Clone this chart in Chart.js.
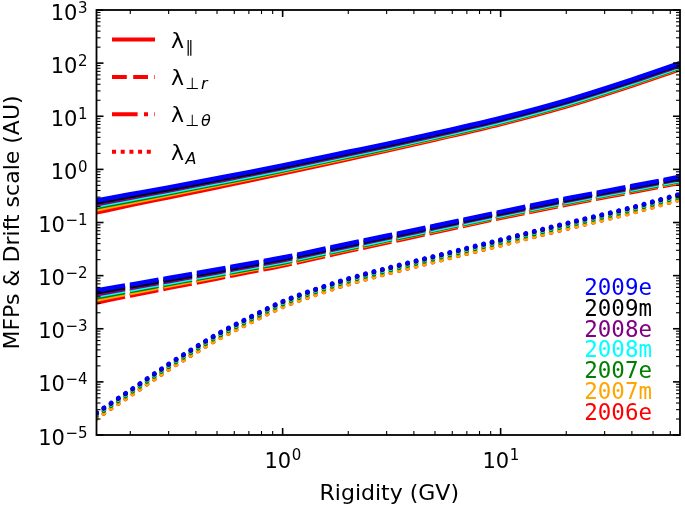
<!DOCTYPE html>
<html><head><meta charset="utf-8">
<script src="https://cdn.jsdelivr.net/npm/chart.js@4.4.1/dist/chart.umd.min.js"></script>
<style>html,body{margin:0;padding:0;background:#fff;overflow:hidden}#wrap{width:685px;height:507px;position:relative}</style>
</head><body><div id="wrap"><canvas id="c" width="685" height="507"></canvas></div>
<script>
// Rigidity grids (GV)
const rigidity = [0.14, 0.2, 0.3, 0.5, 0.7, 1, 2, 3, 5, 10, 20, 40, 66.5];
const rigidityA = [0.14, 0.17, 0.2, 0.25, 0.3, 0.4, 0.5, 0.7, 1, 1.5, 2, 3, 5, 7, 10, 20, 40, 66.5];

const years = ['2009e', '2009m', '2008e', '2008m', '2007e', '2007m', '2006e'];
const yearColors = ['#0000ff', '#000000', '#800080', '#00ffff', '#008000', '#ffa500', '#ff0000'];

// lambda_parallel (solid)
const lamPar2009e = [0.260, 0.339, 0.459, 0.681, 0.887, 1.19, 2.14, 3.02, 4.79, 9.27, 19.95, 49.0, 100];
const lamPar2009m = [0.240, 0.315, 0.428, 0.639, 0.836, 1.123, 2.03, 2.87, 4.56, 8.85, 19.05, 46.8, 95.5];
const lamPar2008e = [0.221, 0.292, 0.400, 0.600, 0.787, 1.060, 1.926, 2.73, 4.35, 8.45, 18.19, 44.7, 91.2];
const lamPar2008m = [0.206, 0.273, 0.375, 0.563, 0.740, 0.997, 1.813, 2.57, 4.10, 7.98, 17.18, 42.2, 86.1];
const lamPar2007e = [0.193, 0.257, 0.354, 0.535, 0.704, 0.952, 1.740, 2.47, 3.96, 7.71, 16.60, 40.8, 83.2];
const lamPar2007m = [0.176, 0.237, 0.331, 0.505, 0.670, 0.912, 1.676, 2.40, 3.85, 7.54, 16.22, 39.8, 81.3];
const lamPar2006e = [0.155, 0.212, 0.299, 0.462, 0.616, 0.843, 1.569, 2.25, 3.64, 7.15, 15.38, 37.8, 77.1];

// lambda_perp_r (dashed)
const lamPerp2009e = [0.00525, 0.00676, 0.00902, 0.01303, 0.01679, 0.0219, 0.0398, 0.0562, 0.0871, 0.1585, 0.282, 0.485, 0.724];
const lamPerp2009m = [0.00485, 0.00628, 0.00842, 0.01222, 0.01582, 0.0207, 0.0377, 0.0534, 0.0830, 0.1514, 0.269, 0.463, 0.691];
const lamPerp2008e = [0.00447, 0.00582, 0.00786, 0.01148, 0.01489, 0.0195, 0.0358, 0.0508, 0.0791, 0.1446, 0.257, 0.442, 0.660];
const lamPerp2008m = [0.00417, 0.00544, 0.00737, 0.01076, 0.01400, 0.01835, 0.0337, 0.0478, 0.0746, 0.1365, 0.243, 0.418, 0.623];
const lamPerp2007e = [0.00389, 0.00512, 0.00695, 0.01023, 0.01333, 0.01752, 0.0324, 0.0460, 0.0719, 0.1319, 0.235, 0.404, 0.602];
const lamPerp2007m = [0.00355, 0.00472, 0.00650, 0.00966, 0.01268, 0.01678, 0.0312, 0.0446, 0.0700, 0.1289, 0.229, 0.394, 0.589];
const lamPerp2006e = [0.00313, 0.00422, 0.00588, 0.00883, 0.01167, 0.01551, 0.0292, 0.0419, 0.0661, 0.1222, 0.217, 0.374, 0.558];

// lambda_A drift scale (dotted), on rigidityA
const lamA2009e = [2.63e-5, 4.52e-5, 7.05e-5, 1.321e-4, 2.19e-4, 4.61e-4, 7.98e-4, 1.629e-3, 3.31e-3, 6.08e-3, 8.87e-3, 0.01393, 0.0236, 0.0333, 0.0479, 0.0977, 0.195, 0.347];
const lamA2009m = [2.57e-5, 4.42e-5, 6.89e-5, 1.291e-4, 2.14e-4, 4.50e-4, 7.80e-4, 1.592e-3, 3.23e-3, 5.94e-3, 8.67e-3, 0.01361, 0.0231, 0.0325, 0.0468, 0.0955, 0.191, 0.339];
const lamA2008e = [2.51e-5, 4.32e-5, 6.73e-5, 1.262e-4, 2.09e-4, 4.40e-4, 7.62e-4, 1.556e-3, 3.16e-3, 5.81e-3, 8.47e-3, 0.01330, 0.0225, 0.0318, 0.0457, 0.0933, 0.186, 0.331];
const lamA2008m = [2.43e-5, 4.17e-5, 6.51e-5, 1.219e-4, 2.02e-4, 4.26e-4, 7.37e-4, 1.504e-3, 3.06e-3, 5.61e-3, 8.19e-3, 0.01286, 0.0218, 0.0307, 0.0442, 0.0902, 0.180, 0.320];
const lamA2007e = [2.29e-5, 3.94e-5, 6.14e-5, 1.151e-4, 1.91e-4, 4.02e-4, 6.95e-4, 1.419e-3, 2.88e-3, 5.30e-3, 7.73e-3, 0.01213, 0.0206, 0.0290, 0.0417, 0.0851, 0.170, 0.302];
const lamA2007m = [2.05e-5, 3.53e-5, 5.50e-5, 1.030e-4, 1.71e-4, 3.60e-4, 6.22e-4, 1.271e-3, 2.58e-3, 4.74e-3, 6.92e-3, 0.01087, 0.0184, 0.0260, 0.0374, 0.0762, 0.152, 0.271];
const lamA2006e = [2.03e-5, 3.49e-5, 5.44e-5, 1.020e-4, 1.69e-4, 3.56e-4, 6.16e-4, 1.258e-3, 2.56e-3, 4.69e-3, 6.85e-3, 0.01075, 0.0182, 0.0257, 0.0370, 0.0754, 0.151, 0.268];

// axis ticks
const xTickValues = [1, 10];
const xTickLabels = [['10', '0'], ['10', '1']];
const yTickValues = [1e-5, 1e-4, 1e-3, 1e-2, 1e-1, 1, 10, 100, 1000];
const yTickLabels = [['10', '−5'], ['10', '−4'], ['10', '−3'], ['10', '−2'], ['10', '−1'], ['10', '0'], ['10', '1'], ['10', '2'], ['10', '3']];
const xTitle = 'Rigidity (GV)';
const yTitle = 'MFPs & Drift scale (AU)';

// legend for line styles
const lambdaLegend = [
  [['∥', false]],
  [['⊥', false], ['r', true]],
  [['⊥', false], ['θ', true]],
  [['A', true]]
];
const lambdaLegendDash = [[], [14.8, 6.4], [25.6, 6.4, 4, 6.4], [4, 4.7]];

const parSeries = [lamPar2009e, lamPar2009m, lamPar2008e, lamPar2008m, lamPar2007e, lamPar2007m, lamPar2006e];
const perpSeries = [lamPerp2009e, lamPerp2009m, lamPerp2008e, lamPerp2008m, lamPerp2007e, lamPerp2007m, lamPerp2006e];
const aSeries = [lamA2009e, lamA2009m, lamA2008e, lamA2008m, lamA2007e, lamA2007m, lamA2006e];

function pts(xs, vals) { return xs.map((x, i) => ({ x: x, y: vals[i] })); }

const datasets = [];
function addGroup(xs, series, dash, cap, width, tag) {
  series.forEach((vals, i) => {
    datasets.push({
      label: tag + ' ' + years[i],
      data: pts(xs, vals),
      borderColor: yearColors[i],
      backgroundColor: yearColors[i],
      borderWidth: width,
      borderDash: dash,
      borderCapStyle: cap,
      pointRadius: 0,
      fill: false,
      cubicInterpolationMode: 'monotone',
      clip: 0
    });
  });
}
addGroup(rigidity, parSeries, [], 'butt', 4.5, 'λ∥');
addGroup(rigidity, perpSeries, [29, 5], 'butt', 4.5, 'λ⊥r');
addGroup(rigidityA, aSeries, [0.5, 8.2], 'round', 4.2, 'λA');

const FONT = '"DejaVu Sans", sans-serif';

const decor = {
  id: 'decor',
  afterDraw(chart) {
    const ctx = chart.ctx;
    const a = chart.chartArea;
    const xs = chart.scales.x, ys = chart.scales.y;
    ctx.save();
    ctx.strokeStyle = '#000';
    ctx.fillStyle = '#000';
    const tick = (x1, y1, x2, y2, w) => { ctx.lineWidth = w; ctx.beginPath(); ctx.moveTo(x1, y1); ctx.lineTo(x2, y2); ctx.stroke(); };
    for (let e = -5; e <= 3; e++) {
      for (let m = 1; m <= 9; m++) {
        const v = m * Math.pow(10, e);
        if (v < 1e-5 * 0.999 || v > 1e3 * 1.001) continue;
        const p = ys.getPixelForValue(v);
        const L = m === 1 ? 7 : 4, w = m === 1 ? 1.6 : 1.1;
        tick(a.left, p, a.left + L, p, w);
        tick(a.right, p, a.right - L, p, w);
      }
    }
    for (let e = -1; e <= 1; e++) {
      for (let m = 1; m <= 9; m++) {
        const v = m * Math.pow(10, e);
        if (v < xs.min || v > xs.max) continue;
        const p = xs.getPixelForValue(v);
        const L = m === 1 ? 7 : 4, w = m === 1 ? 1.6 : 1.1;
        tick(p, a.bottom, p, a.bottom - L, w);
        tick(p, a.top, p, a.top + L, w);
      }
    }
    ctx.lineWidth = 1.8;
    ctx.strokeRect(a.left, a.top, a.right - a.left, a.bottom - a.top);

    const baseFont = '21px ' + FONT, supFont = '15px ' + FONT;
    yTickValues.forEach((v, i) => {
      const p = ys.getPixelForValue(v);
      const [b, s] = yTickLabels[i];
      ctx.font = baseFont; const wb = ctx.measureText(b).width;
      ctx.font = supFont; const wsup = ctx.measureText(s).width;
      const x0 = 87 - wb - wsup;
      ctx.textAlign = 'left'; ctx.textBaseline = 'alphabetic';
      ctx.font = baseFont; ctx.fillText(b, x0, p + 9.5);
      ctx.font = supFont; ctx.fillText(s, x0 + wb + 0.5, p + 9.5 - 7);
    });
    xTickValues.forEach((v, i) => {
      const p = xs.getPixelForValue(v);
      const [b, s] = xTickLabels[i];
      ctx.font = baseFont; const wb = ctx.measureText(b).width;
      ctx.font = supFont; const wsup = ctx.measureText(s).width;
      const x0 = p - (wb + wsup) / 2;
      ctx.textAlign = 'left'; ctx.textBaseline = 'alphabetic';
      ctx.font = baseFont; ctx.fillText(b, x0, 467.5);
      ctx.font = supFont; ctx.fillText(s, x0 + wb + 0.5, 467.5 - 8);
    });

    ctx.font = '22px ' + FONT;
    ctx.textAlign = 'center'; ctx.textBaseline = 'alphabetic';
    ctx.fillText(xTitle, (a.left + a.right) / 2 + 1, 500);
    ctx.save();
    ctx.translate(18.5, 222.5);
    ctx.rotate(-Math.PI / 2);
    ctx.fillText(yTitle, 0, 0);
    ctx.restore();

    lambdaLegend.forEach((parts, i) => {
      const y = 39.5 + i * 37.4;
      ctx.save();
      ctx.strokeStyle = '#ff0000';
      ctx.lineWidth = 4;
      ctx.lineCap = 'butt';
      ctx.setLineDash(lambdaLegendDash[i]);
      ctx.beginPath(); ctx.moveTo(112, y); ctx.lineTo(155, y); ctx.stroke();
      ctx.restore();
      const base = y + 8;
      ctx.textAlign = 'left'; ctx.textBaseline = 'alphabetic';
      ctx.font = '22px ' + FONT;
      ctx.fillText('λ', 171, base);
      let x = 171 + ctx.measureText('λ').width + 1.5;
      parts.forEach(([t, it]) => {
        ctx.font = (it ? 'italic ' : '') + '16px ' + FONT;
        ctx.fillText(t, x, base + 4);
        x += ctx.measureText(t).width + (t === '⊥' ? 1.5 : 0);
      });
    });

    ctx.font = '22.5px "DejaVu Sans Mono", monospace';
    ctx.textAlign = 'right'; ctx.textBaseline = 'alphabetic';
    years.forEach((yr, i) => {
      ctx.fillStyle = yearColors[i];
      ctx.fillText(yr, 652, 295 + i * 20.83);
    });
    ctx.restore();
  }
};

new Chart(document.getElementById('c'), {
  type: 'line',
  data: { datasets: datasets },
  options: {
    responsive: false,
    animation: false,
    devicePixelRatio: 1,
    layout: { padding: { left: 96.5, top: 10, right: 5, bottom: 72 } },
    scales: {
      x: { type: 'logarithmic', min: 0.14, max: 66.5, display: false },
      y: { type: 'logarithmic', min: 1e-5, max: 1e3, display: false }
    },
    plugins: { legend: { display: false }, tooltip: { enabled: false } }
  },
  plugins: [decor]
});
</script>
</body></html>
